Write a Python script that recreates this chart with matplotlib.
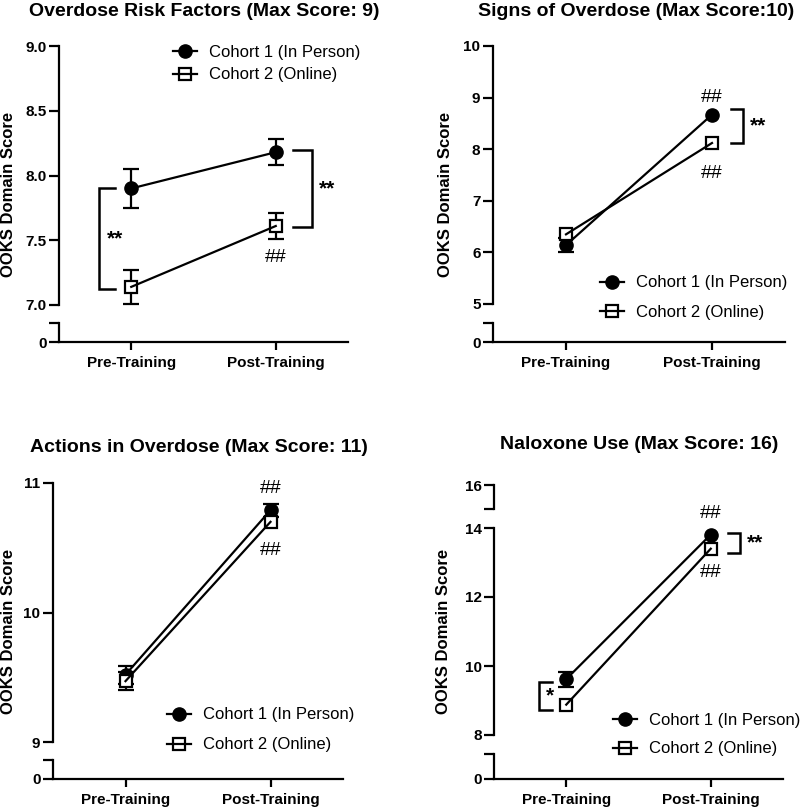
"""
OOKS domain scores, pre vs post training, for two cohorts (Prism style, broken y axis).
"""
import matplotlib
matplotlib.use('Agg')
import matplotlib.pyplot as plt
from matplotlib.lines import Line2D

plt.rcParams['font.family'] = ['Liberation Sans', 'DejaVu Sans']
plt.rcParams['font.weight'] = 'bold'

# Figure size in pixels.
W, H = 800, 809

# Categories and series names.
groups = ['Pre-Training', 'Post-Training']
cohort_labels = ['Cohort 1 (In Person)', 'Cohort 2 (Online)']
titles = ['Overdose Risk Factors (Max Score: 9)', 'Signs of Overdose (Max Score:10)',
          'Actions in Overdose (Max Score: 11)', 'Naloxone Use (Max Score: 16)']

# Means and SEM, [pre, post]. SEM of 0 = bar hidden behind the symbol.
risk_c1 = [7.90, 8.18]
risk_c1_err = [0.15, 0.10]
risk_c2 = [7.14, 7.61]
risk_c2_err = [0.13, 0.10]

signs_c1 = [6.14, 8.67]
signs_c1_err = [0.14, 0.0]
signs_c2 = [6.35, 8.12]
signs_c2_err = [0.0, 0.0]

actions_c1 = [9.52, 10.79]
actions_c1_err = [0.07, 0.05]
actions_c2 = [9.47, 10.70]
actions_c2_err = [0.07, 0.0]

naloxone_c1 = [9.62, 13.81]
naloxone_c1_err = [0.22, 0.0]
naloxone_c2 = [8.88, 13.40]
naloxone_c2_err = [0.0, 0.0]

# Y ticks of the main segment.
risk_ticks = [7.0, 7.5, 8.0, 8.5, 9.0]
signs_ticks = [5, 6, 7, 8, 9, 10]
actions_ticks = [9, 10, 11]
naloxone_ticks = [8, 10, 12, 14]

# Significance brackets: (group x, y top, y bottom, label).
risk_brackets = [(0, 7.90, 7.12, '**'), (1, 8.20, 7.60, '**')]
signs_brackets = [(1, 8.78, 8.12, '**')]
naloxone_brackets = [(0, 9.53, 8.72, '*'), (1, 13.85, 13.27, '**')]

# "##" marks vs pre-training: (x, y).
risk_hash = [(1, 7.37)]
signs_hash = [(1, 9.00), (1, 7.53)]
actions_hash = [(1, 10.96), (1, 10.48)]
naloxone_hash = [(1, 14.43), (1, 12.72)]


def px_box(left, top, right, bottom):
  # Pixel box (top-origin) to figure fraction rect.
  return [left / W, 1 - bottom / H, (right - left) / W, (bottom - top) / H]


def style_axis(ax):
  ax.spines['top'].set_visible(False)
  ax.spines['right'].set_visible(False)
  ax.spines['left'].set_linewidth(1.6)
  ax.spines['bottom'].set_linewidth(1.6)
  ax.tick_params(direction='out', length=7, width=1.6, labelsize=11, pad=2)
  ax.set_xlim(-0.5, 1.5)
  ax.patch.set_alpha(0)


def draw_errors(ax, x, y, err):
  # Only bars that stick out of the symbol are drawn (like Prism).
  keep = [i for i in range(len(x)) if err[i] > 0]
  if keep:
    ax.errorbar([x[i] for i in keep], [y[i] for i in keep], yerr=[err[i] for i in keep],
                fmt='none', ecolor='black', elinewidth=1.6, capsize=6, capthick=1.6,
                zorder=1, clip_on=False)


def draw_panel(fig, title, c1, c1_err, c2, c2_err, ticks, fmt, main_box, low_box,
               title_xy, ylabel_xy, legend_xy, label_spacing, bracket_x=(),
               brackets=(), hashes=(), top_box=None, top_range=None):
  x = [0, 1]
  # Main axis segment.
  ax = fig.add_axes(px_box(*main_box))
  style_axis(ax)
  ax.spines['bottom'].set_visible(False)
  ax.set_xticks([])
  ax.set_ylim(ticks[0], ticks[-1])
  ax.set_yticks(ticks)
  ax.set_yticklabels([fmt.format(t) for t in ticks])

  # Error bars under the symbols, lines on top.
  draw_errors(ax, x, c1, c1_err)
  draw_errors(ax, x, c2, c2_err)
  ax.plot(x, c1, ls='none', marker='o', ms=9.5, mfc='black', mec='black', zorder=2, clip_on=False)
  ax.plot(x, c2, ls='none', marker='s', ms=8.5, mfc='white', mec='black', mew=1.6, zorder=3, clip_on=False)
  ax.plot(x, c1, color='black', lw=1.6, zorder=4, clip_on=False)
  ax.plot(x, c2, color='black', lw=1.6, zorder=4, clip_on=False)

  # Brackets with stars. bracket_x holds (vertical, arm end) offsets from the group.
  for (bx, y_top, y_bot, label), (xv, xa) in zip(brackets, bracket_x):
    ax.plot([bx + xa, bx + xv, bx + xv, bx + xa], [y_top, y_top, y_bot, y_bot],
            color='black', lw=1.8, clip_on=False, solid_joinstyle='miter')
    ax.text(bx + xv + 0.05, (y_top + y_bot) / 2, label, ha='left', va='center',
            fontsize=15, fontweight='bold')

  for hx, hy in hashes:
    ax.text(hx, hy, '##', ha='center', va='center', fontsize=14, fontweight='normal')

  # Legend proxies: hollow square so the line shows through.
  handles = [Line2D([], [], color='black', lw=1.6, marker='o', ms=9.5, mfc='black'),
             Line2D([], [], color='black', lw=1.6, marker='s', ms=8.5, mfc='none', mew=1.6)]
  ax.legend(handles, cohort_labels, loc='upper left',
            bbox_to_anchor=(legend_xy[0] / W, 1 - legend_xy[1] / H),
            bbox_transform=fig.transFigure, frameon=False, borderpad=0, borderaxespad=0,
            handlelength=1.45, handletextpad=0.7, labelspacing=label_spacing,
            prop={'size': 12, 'weight': 'normal'})

  # Lower segment with the zero.
  low = fig.add_axes(px_box(*low_box))
  style_axis(low)
  low.set_ylim(0, 1)
  low.set_yticks([0, 1])
  low.set_yticklabels(['0', ''])
  low.set_xticks(x)
  low.set_xticklabels(groups)
  low.tick_params(axis='x', length=6, pad=4)

  # Optional top segment.
  if top_box is not None:
    top = fig.add_axes(px_box(*top_box))
    style_axis(top)
    top.spines['bottom'].set_visible(False)
    top.set_xticks([])
    top.set_ylim(*top_range)
    top.set_yticks(top_range)
    top.set_yticklabels(['', '{:g}'.format(top_range[1])])

  fig.text(title_xy[0] / W, 1 - title_xy[1] / H, title, ha='center', va='center',
           fontsize=14, fontweight='bold')
  fig.text(ylabel_xy[0] / W, 1 - ylabel_xy[1] / H, 'OOKS Domain Score', rotation=90,
           ha='center', va='center', fontsize=12, fontweight='bold')


fig = plt.figure(figsize=(W / 100, H / 100), dpi=100)
fig.patch.set_facecolor('white')

draw_panel(fig, titles[0], risk_c1, risk_c1_err, risk_c2, risk_c2_err, risk_ticks, '{:.1f}',
           (59, 46, 348, 305), (59, 323, 348, 342), (204, 12), (9, 194), (173, 44.5), 0.48,
           bracket_x=[(-0.22, -0.11), (0.25, 0.12)],
           brackets=risk_brackets, hashes=risk_hash)
draw_panel(fig, titles[1], signs_c1, signs_c1_err, signs_c2, signs_c2_err, signs_ticks, '{:g}',
           (493, 46, 785, 304), (493, 323, 785, 342), (636, 12), (445, 194), (600, 275.5), 0.84,
           bracket_x=[(0.21, 0.13)],
           brackets=signs_brackets, hashes=signs_hash)
draw_panel(fig, titles[2], actions_c1, actions_c1_err, actions_c2, actions_c2_err, actions_ticks, '{:g}',
           (53, 483, 343, 742), (53, 760, 343, 779), (199, 448), (9, 631), (167, 707.5), 0.9,
           hashes=actions_hash)
draw_panel(fig, titles[3], naloxone_c1, naloxone_c1_err, naloxone_c2, naloxone_c2_err, naloxone_ticks, '{:g}',
           (494, 528, 783, 735), (494, 754, 783, 779), (639, 445), (443, 631), (613, 712.5), 0.84,
           bracket_x=[(-0.19, -0.10), (0.20, 0.12)],
           brackets=naloxone_brackets, hashes=naloxone_hash,
           top_box=(494, 485, 783, 509), top_range=(15.3, 16))

fig.savefig('out.png', dpi=100, facecolor='white')
plt.close(fig)
